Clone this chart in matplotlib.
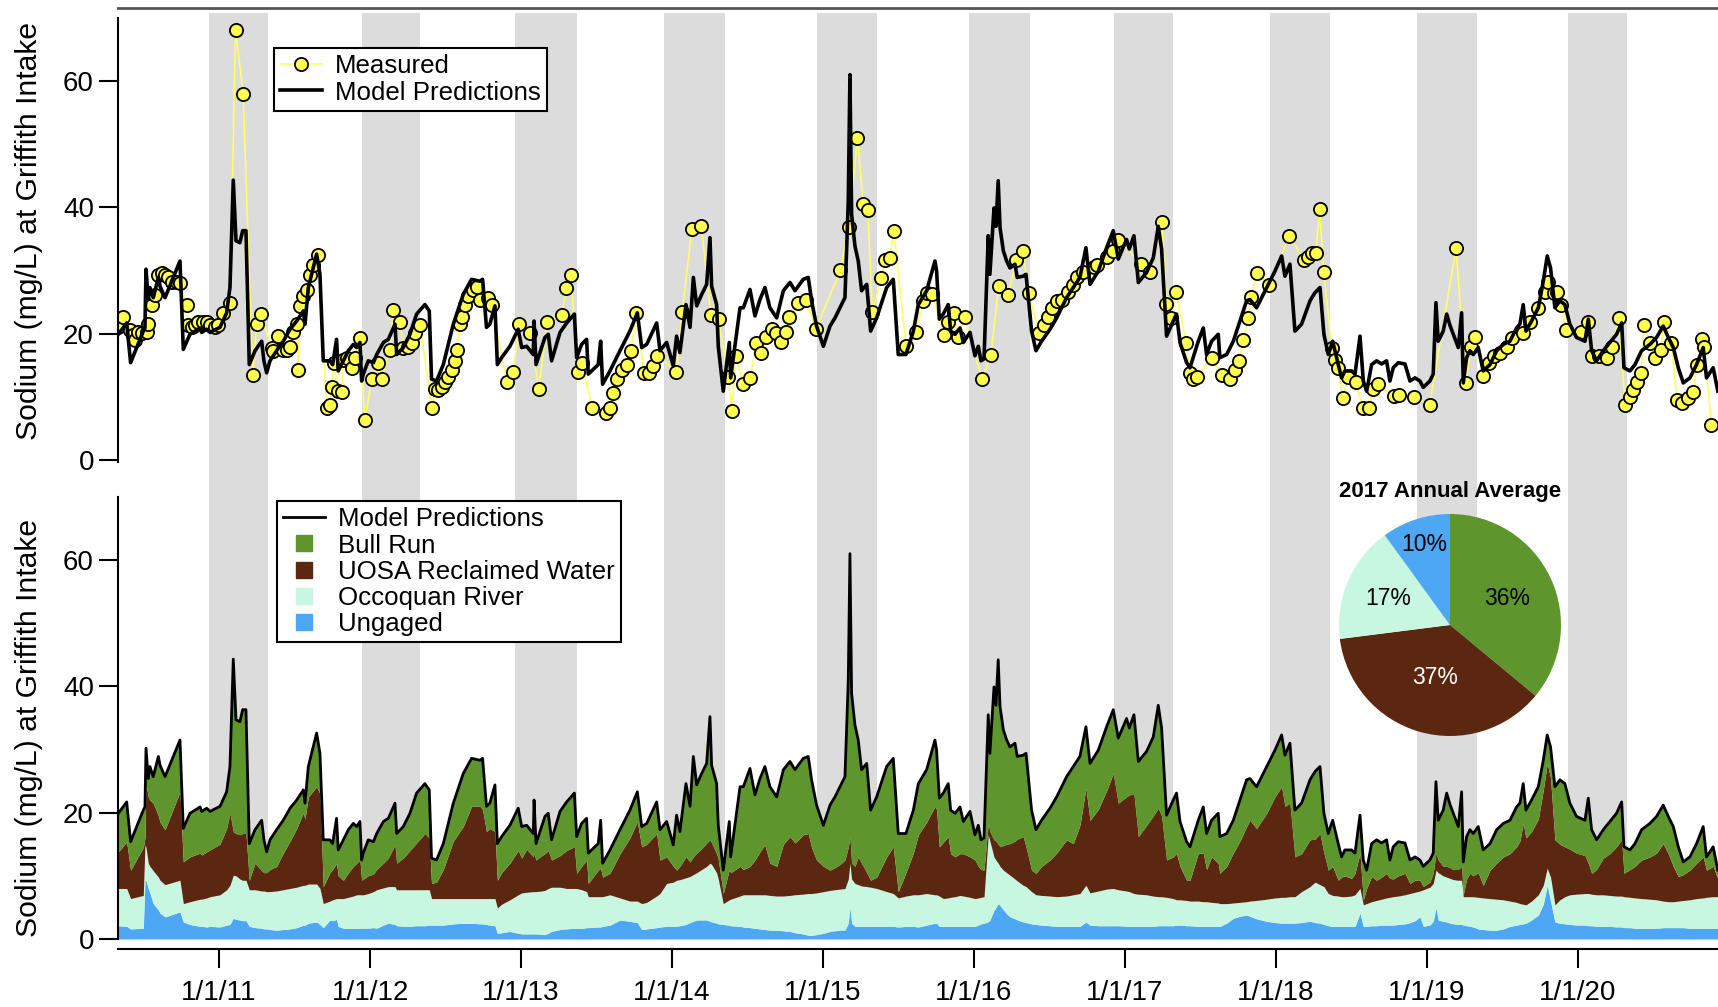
import numpy as np
import matplotlib.pyplot as plt
from matplotlib.lines import Line2D

plt.rcParams['font.family'] = ['Liberation Sans', 'DejaVu Sans']

# road-salt season shading (decimal years)
band_start = [2010.933, 2011.944, 2012.960, 2013.946, 2014.957,
              2015.968, 2016.929, 2017.960, 2018.935, 2019.935]
band_end = [2011.322, 2012.331, 2013.368, 2014.350, 2015.360,
            2016.370, 2017.319, 2018.357, 2019.328, 2020.322]

# model output: time (decimal year), total sodium and cumulative source levels (mg/L)
model_t = [
    2010.333, 2010.388, 2010.414, 2010.498, 2010.509, 2010.516, 2010.531, 2010.542, 2010.564, 2010.598,
    2010.609, 2010.642, 2010.741, 2010.763, 2010.807, 2010.874, 2010.885, 2010.918, 2010.940, 2011.006,
    2011.050, 2011.072, 2011.094, 2011.112, 2011.138, 2011.156, 2011.178, 2011.200, 2011.238, 2011.282,
    2011.297, 2011.315, 2011.337, 2011.381, 2011.425, 2011.470, 2011.514, 2011.558, 2011.569, 2011.591,
    2011.646, 2011.668, 2011.690, 2011.734, 2011.752, 2011.778, 2011.789, 2011.823, 2011.856, 2011.889,
    2011.911, 2011.933, 2011.944, 2011.955, 2011.988, 2012.022, 2012.044, 2012.088, 2012.121, 2012.165,
    2012.176, 2012.220, 2012.264, 2012.308, 2012.363, 2012.392, 2012.407, 2012.440, 2012.485, 2012.551,
    2012.617, 2012.672, 2012.728, 2012.745, 2012.771, 2012.793, 2012.827, 2012.843, 2012.871, 2012.926,
    2012.981,
    2013.004, 2013.037, 2013.081, 2013.086, 2013.099, 2013.136, 2013.158, 2013.180, 2013.202, 2013.258,
    2013.302, 2013.353, 2013.368, 2013.401, 2013.434, 2013.445, 2013.511, 2013.527, 2013.540, 2013.589,
    2013.655, 2013.721, 2013.770, 2013.799, 2013.832, 2013.898, 2013.920, 2013.964, 2014.008, 2014.030,
    2014.052, 2014.092, 2014.119, 2014.141, 2014.163, 2014.196, 2014.229, 2014.251, 2014.262, 2014.295,
    2014.306, 2014.339, 2014.379, 2014.388, 2014.450, 2014.472, 2014.516, 2014.549, 2014.582, 2014.615,
    2014.648, 2014.693, 2014.737, 2014.781, 2014.814, 2014.869, 2014.902, 2014.924, 2014.957, 2015.002,
    2015.046, 2015.079, 2015.112, 2015.145, 2015.167, 2015.178, 2015.189, 2015.211, 2015.233, 2015.255,
    2015.289, 2015.315, 2015.355, 2015.421, 2015.465, 2015.498, 2015.549, 2015.598,
    2015.631, 2015.686, 2015.741, 2015.752, 2015.770, 2015.796, 2015.829, 2015.845, 2015.874, 2015.907,
    2015.929, 2015.973, 2016.006, 2016.028, 2016.046, 2016.066, 2016.094, 2016.105, 2016.132, 2016.145,
    2016.160, 2016.172, 2016.194, 2016.216, 2016.238, 2016.271, 2016.286, 2016.326, 2016.344, 2016.381,
    2016.410, 2016.447, 2016.503, 2016.547, 2016.613, 2016.657, 2016.701, 2016.741, 2016.768, 2016.823,
    2016.878, 2016.922, 2016.955, 2017.010, 2017.028, 2017.059, 2017.088, 2017.143, 2017.187, 2017.220,
    2017.242, 2017.275, 2017.319, 2017.341, 2017.364, 2017.408, 2017.430, 2017.485, 2017.518, 2017.540,
    2017.573, 2017.617, 2017.628, 2017.673, 2017.717, 2017.761, 2017.805, 2017.827, 2017.871, 2017.938,
    2017.993, 2018.037, 2018.059, 2018.092, 2018.125, 2018.169, 2018.225,
    2018.258, 2018.291, 2018.317, 2018.346, 2018.375, 2018.412, 2018.434, 2018.456, 2018.500, 2018.523,
    2018.556, 2018.578, 2018.600, 2018.633, 2018.666, 2018.699, 2018.732, 2018.754, 2018.776, 2018.809,
    2018.854, 2018.887, 2018.920, 2018.953, 2018.975, 2019.019, 2019.041, 2019.059, 2019.074, 2019.107,
    2019.130, 2019.152, 2019.174, 2019.207, 2019.229, 2019.240, 2019.262, 2019.284, 2019.306, 2019.339,
    2019.372, 2019.417, 2019.461, 2019.505, 2019.549, 2019.593, 2019.615, 2019.637, 2019.655, 2019.692,
    2019.737, 2019.770, 2019.796, 2019.818, 2019.847, 2019.880, 2019.913, 2019.946, 2019.990, 2020.046,
    2020.068, 2020.090, 2020.123, 2020.167, 2020.211, 2020.255, 2020.289, 2020.304, 2020.344, 2020.377,
    2020.421, 2020.476, 2020.520, 2020.564, 2020.598, 2020.631, 2020.664, 2020.697, 2020.741, 2020.785,
    2020.829, 2020.851, 2020.895, 2020.926,
]

model_na = [
    19.9, 21.7, 15.4, 20.4, 20.9, 30.2, 25.4, 27.3, 25.7, 28.9,
    27.5, 25.7, 31.5, 17.5, 19.9, 20.9, 20.2, 20.7, 20.2, 21.0,
    23.3, 27.3, 44.3, 34.7, 34.4, 36.3, 36.3, 15.1, 17.3, 18.8,
    15.7, 13.8, 15.7, 17.3, 18.8, 20.7, 22.0, 23.6, 21.5, 27.3,
    32.6, 29.4, 15.7, 15.7, 15.1, 19.1, 14.1, 15.7, 17.3, 18.3,
    17.8, 18.6, 12.5, 13.6, 15.7, 15.4, 16.7, 18.6, 19.1, 21.5,
    16.7, 17.8, 19.9, 23.1, 24.6, 23.6, 12.8, 12.5, 15.1, 21.5,
    26.2, 28.6, 28.3, 28.6, 21.0, 21.5, 24.4, 15.1, 16.2, 18.0,
    20.7,
    17.8, 18.0, 16.7, 22.0, 15.1, 17.8, 19.4, 19.9, 15.7, 20.2,
    21.7, 23.1, 16.2, 18.3, 19.1, 13.6, 15.1, 18.8, 12.0, 14.1,
    17.3, 20.4, 23.3, 17.8, 18.3, 21.7, 17.3, 18.6, 14.9, 19.6,
    17.0, 24.6, 21.0, 28.9, 24.4, 26.2, 27.8, 35.2, 27.5, 24.6,
    18.0, 10.9, 18.6, 13.0, 24.1, 24.1, 27.0, 22.8, 25.4, 27.3,
    24.1, 22.5, 26.8, 28.1, 26.8, 28.6, 28.9, 25.2, 21.2, 18.0,
    21.2, 22.5, 24.1, 25.7, 41.0, 61.0, 38.9, 33.9, 31.5, 26.8,
    27.8, 20.4, 22.5, 27.3, 28.6, 16.7, 16.7, 20.4,
    24.6, 26.8, 31.5, 29.9, 22.3, 23.1, 24.6, 20.4, 19.9, 20.9,
    18.6, 20.2, 16.5, 18.0, 15.7, 16.0, 35.5, 29.4, 39.9, 37.0,
    44.2, 36.8, 33.1, 31.5, 30.4, 31.0, 28.9, 29.1, 29.4, 20.4,
    17.3, 18.8, 20.7, 22.5, 25.7, 27.3, 28.9, 33.6, 27.8, 29.9,
    33.6, 36.3, 31.8, 34.9, 33.4, 35.5, 28.1, 29.7, 32.0, 37.0,
    33.4, 19.6, 22.0, 23.1, 18.6, 15.4, 14.6, 18.8, 20.9, 16.7,
    18.8, 19.9, 16.2, 16.7, 18.8, 22.0, 25.2, 25.4, 24.1, 27.3,
    29.9, 32.3, 29.1, 31.0, 20.4, 21.5, 25.2,
    26.5, 27.3, 19.9, 16.7, 18.8, 15.1, 13.0, 14.1, 14.1, 13.6,
    19.6, 12.5, 10.9, 15.1, 15.7, 15.2, 15.7, 12.5, 14.6, 15.4,
    15.2, 12.5, 13.0, 12.5, 11.5, 12.5, 13.6, 24.9, 18.8, 20.4,
    23.1, 21.3, 19.9, 17.8, 23.3, 12.2, 16.2, 17.3, 16.7, 17.8,
    14.1, 15.1, 17.3, 18.3, 18.8, 20.9, 21.5, 24.6, 20.4, 22.0,
    24.1, 28.3, 32.3, 30.4, 24.1, 25.2, 24.6, 21.5, 19.4, 18.8,
    22.3, 17.3, 15.7, 17.3, 18.6, 19.9, 21.7, 14.6, 14.1, 15.1,
    17.3, 18.3, 19.4, 21.2, 19.4, 17.8, 14.6, 12.2, 13.0, 15.1,
    17.8, 13.0, 14.6, 10.9,
]

# top of the UOSA layer (ungaged + Occoquan + UOSA)
uosa_cum = [
    13.8, 15.4, 10.9, 14.5, 16.0, 24.6, 22.5, 22.0, 21.5, 19.5,
    18.5, 17.3, 23.3, 12.2, 13.0, 13.6, 13.3, 13.8, 14.1, 15.0,
    17.5, 19.9, 17.0, 16.7, 16.5, 16.7, 16.7, 9.3, 12.0, 10.8,
    10.5, 10.5, 11.0, 11.5, 13.6, 15.5, 17.5, 20.0, 19.0, 22.5,
    24.1, 23.0, 8.3, 10.5, 11.0, 12.0, 10.0, 9.3, 10.5, 11.5,
    12.0, 12.5, 9.3, 9.5, 10.0, 10.3, 11.0, 12.0, 12.8, 14.9,
    12.0, 12.8, 14.0, 15.2, 16.7, 16.0, 8.8, 9.0, 11.0, 15.5,
    17.8, 21.0, 21.0, 20.5, 17.0, 17.5, 17.0, 9.3, 10.5, 12.0,
    14.0,
    12.8, 14.2, 13.0, 13.5, 12.5, 13.2, 13.5, 14.0, 12.5, 13.2,
    14.0, 14.6, 10.4, 11.5, 12.5, 8.8, 10.9, 11.2, 9.8, 10.4,
    13.5, 16.0, 18.6, 14.6, 15.0, 16.7, 12.5, 13.0, 11.5, 10.9,
    11.5, 13.0, 12.2, 13.0, 13.6, 14.3, 15.2, 15.7, 15.2, 13.5,
    12.6, 7.2, 11.0, 10.5, 11.5, 11.0, 11.5, 12.5, 13.8, 14.9,
    12.0, 11.5, 15.0, 16.2, 15.2, 16.5, 16.7, 14.5, 12.5, 11.5,
    10.9, 11.3, 11.8, 12.5, 14.5, 16.2, 12.0, 11.5, 13.0, 12.0,
    10.5, 9.3, 9.8, 13.0, 14.6, 7.5, 10.5, 13.6,
    16.5, 18.5, 21.0, 20.5, 14.6, 15.3, 16.2, 13.5, 13.0, 13.5,
    13.5, 13.0, 12.5, 11.5, 11.0, 10.9, 18.3, 17.0, 15.7, 15.5,
    15.0, 14.6, 14.8, 15.0, 15.1, 15.5, 15.8, 16.2, 14.6, 10.9,
    10.4, 11.5, 12.5, 13.6, 15.7, 15.1, 18.0, 23.9, 18.8, 20.5,
    23.5, 26.2, 21.5, 22.5, 22.8, 23.0, 16.2, 18.0, 19.5, 20.7,
    19.5, 12.5, 13.0, 13.6, 11.5, 9.3, 9.3, 13.6, 13.6, 11.0,
    13.0, 12.0, 10.4, 11.5, 13.6, 15.5, 17.8, 18.8, 17.5, 19.9,
    22.5, 24.1, 21.0, 21.5, 13.0, 13.5, 15.7,
    15.8, 16.7, 13.6, 10.9, 11.5, 9.3, 9.8, 10.0, 9.6, 10.4,
    13.6, 6.2, 8.0, 9.9, 9.3, 9.8, 10.4, 9.6, 9.5, 10.0,
    10.4, 8.8, 9.3, 9.3, 8.3, 9.0, 10.4, 13.6, 12.5, 11.5,
    11.5, 11.3, 11.0, 11.0, 11.5, 7.0, 9.5, 10.4, 10.0, 10.5,
    8.5, 10.9, 12.0, 13.0, 13.5, 14.6, 15.5, 18.3, 16.0, 17.0,
    19.0, 23.6, 27.8, 25.5, 15.7, 15.0, 14.6, 14.2, 13.6, 13.2,
    12.0, 10.4, 11.0, 12.8, 13.5, 14.6, 15.7, 10.4, 11.0, 11.5,
    12.5, 13.0, 13.6, 15.1, 13.5, 11.5, 9.9, 10.2, 10.9, 12.0,
    13.0, 10.9, 11.5, 9.5,
]

# top of the Occoquan layer (ungaged + Occoquan)
occoquan_cum = [
    8.0, 8.0, 6.4, 6.9, 14.9, 14.5, 12.0, 11.5, 10.8, 9.8,
    9.3, 8.6, 9.3, 5.6, 5.9, 6.3, 6.3, 6.5, 6.7, 7.0,
    7.8, 8.5, 10.1, 10.0, 9.5, 9.3, 9.3, 7.8, 7.8, 7.6,
    7.6, 7.5, 7.5, 7.6, 7.8, 8.0, 8.2, 8.5, 8.5, 8.7,
    8.7, 8.0, 5.6, 6.0, 6.2, 6.4, 6.4, 6.4, 6.6, 6.8,
    7.0, 7.0, 7.0, 7.0, 7.2, 7.5, 7.8, 8.1, 8.3, 8.3,
    7.8, 7.8, 7.8, 7.8, 7.8, 7.8, 6.4, 6.4, 6.4, 6.4,
    6.4, 6.4, 6.4, 6.4, 6.4, 6.4, 6.4, 4.9, 5.5, 6.2,
    7.0,
    7.3, 7.4, 7.5, 7.5, 7.5, 7.6, 7.7, 8.0, 8.2, 8.2,
    8.0, 8.0, 8.0, 7.8, 7.5, 6.7, 6.7, 6.7, 6.7, 7.0,
    6.5, 6.0, 6.0, 5.6, 5.8, 6.8, 7.2, 8.8, 9.0, 9.3,
    9.4, 9.7, 9.9, 10.2, 10.5, 11.0, 11.5, 12.0, 11.8, 10.5,
    9.5, 5.6, 6.2, 6.3, 6.8, 7.0, 7.0, 7.0, 7.0, 7.0,
    6.9, 6.8, 6.8, 6.9, 7.0, 7.1, 7.2, 7.2, 7.3, 7.5,
    7.7, 7.8, 7.9, 8.0, 9.5, 12.0, 9.5, 8.8, 8.6, 8.4,
    8.3, 8.2, 8.0, 7.5, 7.2, 6.5, 6.8, 7.0,
    7.0, 7.2, 7.0, 7.0, 6.8, 6.4, 6.5, 6.6, 6.7, 6.9,
    6.8, 6.6, 6.4, 6.5, 6.6, 6.7, 16.5, 15.5, 13.0, 12.5,
    12.0, 11.5, 10.9, 10.5, 10.1, 9.5, 9.2, 8.5, 8.3, 7.5,
    7.0, 6.9, 6.8, 6.7, 6.8, 7.0, 7.2, 8.5, 7.3, 7.6,
    7.9, 8.0, 7.8, 7.6, 7.5, 7.2, 7.1, 7.0, 6.8, 6.7,
    6.7, 6.6, 6.4, 6.2, 6.2, 6.1, 6.0, 6.0, 5.9, 5.9,
    5.8, 5.7, 5.6, 5.6, 5.7, 5.8, 5.9, 6.0, 6.1, 6.3,
    6.5, 6.6, 6.6, 6.7, 6.7, 7.5, 8.3,
    9.0, 8.6, 8.3, 7.2, 6.9, 6.8, 6.7, 6.7, 6.8, 7.0,
    8.0, 5.4, 5.6, 5.9, 6.1, 6.3, 6.5, 6.6, 6.7, 6.8,
    7.0, 7.2, 7.4, 7.6, 7.8, 8.2, 8.8, 10.9, 10.5, 10.0,
    9.8, 9.6, 9.4, 9.3, 9.3, 6.7, 6.7, 6.7, 6.7, 6.6,
    6.5, 6.4, 6.3, 6.2, 6.0, 5.8, 5.6, 5.5, 5.4, 6.0,
    7.0, 8.5, 11.2, 9.8, 5.4, 6.2, 6.7, 7.0, 7.1, 7.2,
    7.2, 7.1, 7.0, 7.0, 6.9, 6.8, 6.8, 6.7, 6.6, 6.5,
    6.4, 6.3, 6.2, 6.0, 5.9, 5.9, 6.0, 6.1, 6.2, 6.4,
    6.5, 6.6, 6.7, 6.7,
]

# ungaged contribution (bottom layer)
ungaged_cum = [
    2.1, 2.0, 1.6, 1.7, 9.3, 9.3, 8.0, 7.3, 5.6, 4.6,
    4.1, 3.5, 4.3, 2.7, 2.3, 2.0, 2.0, 1.9, 2.0, 1.9,
    2.2, 2.3, 3.3, 3.1, 3.0, 2.9, 2.9, 2.0, 1.8, 1.7,
    1.6, 1.6, 1.5, 1.4, 1.5, 1.6, 1.8, 2.2, 2.2, 2.5,
    2.7, 2.3, 1.8, 3.0, 2.9, 3.1, 2.0, 1.7, 1.7, 1.7,
    1.7, 1.7, 1.7, 1.7, 1.7, 1.8, 1.7, 2.2, 2.5, 2.3,
    2.1, 2.0, 2.0, 2.1, 2.1, 2.2, 2.2, 2.2, 2.2, 2.4,
    2.5, 2.5, 2.4, 2.4, 2.3, 2.2, 2.1, 0.9, 1.0, 1.2,
    0.9,
    0.8, 0.8, 0.8, 0.8, 0.8, 0.7, 0.7, 0.9, 1.2, 1.5,
    1.6, 1.7, 1.7, 1.7, 1.8, 1.8, 1.9, 1.9, 2.0, 2.2,
    3.0, 2.8, 2.6, 1.5, 1.6, 1.8, 1.9, 2.0, 2.0, 2.0,
    2.1, 2.3, 2.6, 2.8, 3.0, 3.0, 3.0, 2.8, 2.7, 2.5,
    2.4, 2.3, 2.2, 2.1, 2.0, 1.9, 1.8, 1.7, 1.6, 1.5,
    1.4, 1.4, 1.3, 1.2, 1.0, 0.8, 0.6, 0.6, 0.7, 0.9,
    1.2, 1.3, 1.4, 1.4, 2.5, 4.9, 2.5, 2.0, 2.0, 2.0,
    2.0, 2.0, 2.0, 2.0, 2.0, 1.9, 2.0, 2.0,
    1.9, 2.2, 2.5, 2.5, 2.0, 2.0, 2.0, 2.0, 2.0, 2.0,
    2.0, 2.0, 2.0, 2.2, 2.4, 2.5, 2.7, 3.0, 4.5, 5.0,
    5.6, 5.3, 4.6, 4.0, 3.5, 3.2, 3.0, 2.7, 2.6, 2.4,
    2.3, 2.2, 2.1, 2.0, 2.0, 2.0, 2.0, 2.7, 2.2, 2.1,
    2.1, 2.1, 2.1, 2.0, 2.0, 2.0, 2.0, 2.0, 2.0, 2.1,
    2.1, 2.1, 2.1, 2.2, 2.2, 2.1, 2.1, 2.0, 2.0, 2.0,
    2.0, 2.0, 2.0, 2.5, 3.3, 3.6, 3.8, 3.6, 3.2, 2.8,
    2.6, 2.5, 2.5, 2.5, 2.5, 2.6, 2.8,
    2.6, 2.5, 2.3, 2.1, 2.0, 2.0, 2.0, 2.0, 2.0, 2.0,
    4.1, 2.0, 2.0, 2.1, 2.1, 2.2, 2.2, 2.2, 2.2, 2.3,
    2.4, 2.6, 2.9, 3.5, 2.0, 2.2, 2.8, 4.9, 3.0, 2.8,
    2.7, 2.5, 2.4, 2.3, 2.3, 2.2, 2.1, 2.0, 1.9, 1.6,
    1.5, 1.4, 1.4, 1.6, 2.0, 2.2, 2.3, 2.4, 2.5, 3.0,
    3.8, 5.5, 8.5, 6.0, 2.7, 2.5, 2.4, 2.3, 2.2, 2.2,
    2.1, 2.1, 2.0, 2.0, 2.0, 1.9, 1.9, 1.8, 1.8, 1.7,
    1.7, 1.7, 1.7, 1.8, 1.8, 1.8, 1.8, 1.8, 1.7, 1.7,
    1.7, 1.7, 1.7, 1.7,
]

# grab samples at the intake
meas_t = [
    2010.333, 2010.366, 2010.410, 2010.432, 2010.443, 2010.465, 2010.487, 2010.520, 2010.531, 2010.553,
    2010.575, 2010.598, 2010.620, 2010.642, 2010.664, 2010.686, 2010.719, 2010.741, 2010.785, 2010.796,
    2010.818, 2010.840, 2010.862, 2010.895, 2010.918, 2010.940, 2010.973, 2010.995, 2011.028, 2011.072,
    2011.109, 2011.160, 2011.222, 2011.249, 2011.278, 2011.348, 2011.359, 2011.392, 2011.425, 2011.447,
    2011.470, 2011.487, 2011.514, 2011.525, 2011.536, 2011.558, 2011.580, 2011.602, 2011.624, 2011.657,
    2011.712, 2011.734, 2011.745, 2011.761, 2011.790, 2011.812, 2011.823, 2011.845, 2011.878, 2011.900,
    2011.933, 2011.966, 2012.010, 2012.054, 2012.077, 2012.131, 2012.154, 2012.198, 2012.220, 2012.253,
    2012.275, 2012.297, 2012.331, 2012.408, 2012.430, 2012.452, 2012.474, 2012.496, 2012.518, 2012.540,
    2012.562, 2012.573, 2012.595, 2012.606, 2012.628, 2012.650, 2012.684, 2012.706, 2012.728, 2012.783,
    2012.805, 2012.905, 2012.949, 2012.988,
    2013.059, 2013.117, 2013.173, 2013.269, 2013.300, 2013.330, 2013.376, 2013.401, 2013.472,
    2013.560, 2013.586, 2013.611, 2013.637, 2013.670, 2013.700, 2013.730, 2013.763, 2013.814, 2013.847,
    2013.872, 2013.903, 2014.029, 2014.067, 2014.131, 2014.194, 2014.257, 2014.308, 2014.371, 2014.397,
    2014.422, 2014.473, 2014.519, 2014.556, 2014.592, 2014.625, 2014.663, 2014.688, 2014.719, 2014.752,
    2014.777, 2014.835, 2014.886, 2014.954, 2015.114, 2015.170, 2015.228, 2015.266, 2015.296, 2015.327,
    2015.385, 2015.410, 2015.441, 2015.469, 2015.550, 2015.613, 2015.664, 2015.689, 2015.722, 2015.803,
    2015.829, 2015.867, 2015.892, 2015.938, 2016.052, 2016.112, 2016.163, 2016.226, 2016.280, 2016.323,
    2016.361, 2016.432, 2016.462, 2016.488, 2016.518, 2016.551, 2016.584, 2016.619, 2016.652, 2016.685,
    2016.721, 2016.792, 2016.817, 2016.880, 2016.918, 2016.956, 2017.108, 2017.167, 2017.243, 2017.273,
    2017.303, 2017.336,
    2017.405, 2017.429, 2017.453, 2017.477, 2017.573, 2017.645, 2017.693, 2017.729, 2017.753, 2017.784,
    2017.813, 2017.837, 2017.873, 2017.952, 2018.088, 2018.184, 2018.213, 2018.237, 2018.264, 2018.288,
    2018.316, 2018.369, 2018.393, 2018.412, 2018.441, 2018.479, 2018.527, 2018.575, 2018.616, 2018.640,
    2018.676, 2018.784, 2018.815, 2018.916, 2019.017, 2019.192, 2019.257, 2019.288, 2019.319, 2019.372,
    2019.408, 2019.444, 2019.480, 2019.528, 2019.564, 2019.636, 2019.684, 2019.732, 2019.780, 2019.804,
    2019.839, 2019.863, 2019.887, 2019.923, 2020.019, 2020.067, 2020.091, 2020.139, 2020.192, 2020.223,
    2020.271, 2020.312, 2020.343, 2020.367, 2020.391, 2020.415, 2020.439, 2020.475, 2020.511, 2020.547,
    2020.571, 2020.619, 2020.655, 2020.691, 2020.727, 2020.763, 2020.787, 2020.823, 2020.835, 2020.883,
]

meas_na = [
    21.1, 22.7, 20.6, 19.8, 19.0, 20.3, 20.1, 20.3, 21.6, 24.5,
    26.1, 29.3, 29.6, 29.3, 29.0, 28.2, 28.2, 28.0, 24.5, 21.4,
    21.1, 21.4, 21.9, 21.9, 21.9, 21.4, 21.1, 21.4, 23.2, 24.8,
    68.1, 57.9, 13.5, 21.6, 23.1, 17.7, 17.2, 19.6, 17.4, 17.4,
    17.9, 20.3, 21.6, 14.2, 24.3, 25.9, 26.9, 29.3, 30.9, 32.5,
    8.2, 8.7, 11.6, 15.3, 11.0, 10.8, 15.8, 16.1, 14.5, 16.1,
    19.3, 6.3, 12.9, 15.3, 12.9, 17.4, 23.7, 21.9, 17.7, 17.9,
    18.5, 20.1, 21.4, 8.2, 11.3, 11.1, 11.6, 12.4, 13.2, 14.2,
    15.6, 17.4, 21.6, 22.7, 24.5, 25.9, 26.9, 27.4, 25.3, 25.6,
    24.5, 12.4, 14.0, 21.6,
    20.1, 11.2, 21.9, 23.0, 27.2, 29.3, 14.0, 15.3, 8.3,
    7.4, 8.3, 10.6, 12.9, 14.2, 15.0, 17.3, 23.3, 13.8, 13.7,
    14.9, 16.5, 14.0, 23.5, 36.5, 37.0, 23.0, 22.3, 13.2, 7.8,
    16.4, 12.1, 13.0, 18.6, 16.9, 19.4, 20.7, 20.1, 18.7, 20.2,
    22.6, 24.8, 25.3, 20.8, 30.0, 36.9, 51.0, 40.5, 39.6, 23.5,
    28.8, 31.7, 31.9, 36.3, 18.0, 20.3, 25.1, 26.4, 26.3, 19.8,
    21.9, 23.2, 19.5, 22.7, 12.8, 16.6, 27.5, 26.1, 31.7, 33.1,
    26.4, 20.1, 21.4, 22.7, 24.0, 25.2, 25.4, 26.6, 27.7, 29.0,
    29.7, 30.6, 30.9, 32.2, 33.1, 34.9, 31.1, 29.7, 37.6, 24.7,
    22.4, 26.6,
    18.5, 13.7, 12.9, 13.2, 16.1, 13.5, 12.9, 14.2, 15.6, 19.0,
    22.4, 25.8, 29.6, 27.7, 35.5, 31.7, 32.2, 32.7, 32.8, 39.7,
    29.8, 17.7, 15.9, 14.5, 9.8, 13.2, 12.4, 8.3, 8.3, 11.3,
    12.1, 10.1, 10.3, 10.0, 8.7, 33.5, 12.2, 17.9, 19.5, 13.3,
    15.3, 16.4, 16.9, 17.9, 19.3, 20.1, 21.9, 24.0, 26.6, 28.2,
    26.4, 26.6, 24.5, 20.6, 20.3, 21.9, 16.4, 16.4, 16.1, 17.9,
    22.4, 8.7, 10.0, 11.1, 12.4, 13.7, 21.4, 18.5, 16.1, 17.4,
    21.9, 18.5, 9.5, 9.0, 9.8, 10.8, 15.0, 19.1, 17.9, 5.5,
]

# 2017 annual average source split
pie_labels = ['Bull Run', 'UOSA Reclaimed Water', 'Occoquan River', 'Ungaged']
pie_pct = [36, 37, 17, 10]

c_bull = '#5E962D'
c_uosa = '#5C2710'
c_occ = '#C8F7E1'
c_ung = '#4DA7F5'
c_band = '#DCDCDC'
c_yellow = '#FFFF4D'

W, H = 1718, 1007


def box(x0, y0, x1, y1):
    # pixel box (top-left origin) -> figure fraction rect
    return [x0 / W, 1 - y1 / H, (x1 - x0) / W, (y1 - y0) / H]


xmin, xmax = 2010.3325, 2020.927

fig = plt.figure(figsize=(W / 100, H / 100), dpi=100)

bg = fig.add_axes(box(118.3, 13, W, 939))
bg.set_xlim(xmin, xmax)
bg.set_ylim(0, 1)
bg.axis('off')
for s, e in zip(band_start, band_end):
    bg.axvspan(s, e, color=c_band, lw=0)

ax1 = fig.add_axes(box(118.3, 17.8, W, 461.9))
ax2 = fig.add_axes(box(118.3, 496.8, W, 939))

t = np.array(model_t)
na = np.array(model_na)

# top: measured vs model
ax1.plot(meas_t, meas_na, '-', color='#FFFF66', lw=1.2, marker='o', ms=9.5,
         mfc=c_yellow, mec='black', mew=1.3, zorder=2)
ax1.plot(t, na, color='black', lw=2.6, zorder=3)
ax1.set_ylim(-0.3, 70)

# bottom: stacked source contributions
ax2.fill_between(t, 0, ungaged_cum, color=c_ung, lw=0)
ax2.fill_between(t, ungaged_cum, occoquan_cum, color=c_occ, lw=0)
ax2.fill_between(t, occoquan_cum, uosa_cum, color=c_uosa, lw=0)
ax2.fill_between(t, uosa_cum, na, color=c_bull, lw=0)
ax2.plot(t, na, color='black', lw=2.0)
ax2.set_ylim(0, 70)

for ax in (ax1, ax2):
    ax.patch.set_visible(False)
    ax.set_xlim(xmin, xmax)
    ax.set_yticks([0, 20, 40, 60])
    ax.spines['right'].set_visible(False)
    ax.spines['left'].set_linewidth(1.5)
    ax.tick_params(axis='y', length=13.5, width=1.5, labelsize=20, pad=4)
    ax.set_ylabel('Sodium (mg/L) at Griffith Intake', fontsize=21.7)

ax1.spines['bottom'].set_visible(False)
ax1.spines['top'].set_position(('outward', 7.2))
ax1.spines['top'].set_color('#555555')
ax1.spines['top'].set_linewidth(2)
ax1.tick_params(axis='x', bottom=False, labelbottom=False)
ax1.yaxis.set_label_coords(-0.047, 0.52)

ax2.spines['top'].set_visible(False)
ax2.spines['bottom'].set_position(('outward', 7.2))
ax2.spines['bottom'].set_linewidth(1.5)
years = list(range(2011, 2021))
ax2.set_xticks(years)
ax2.set_xticklabels([f'1/1/{y % 100:02d}' for y in years])
ax2.tick_params(axis='x', length=13.5, width=1.5, labelsize=20, pad=9)
ax2.yaxis.set_label_coords(-0.047, 0.477)

leg_kw = dict(loc='upper left', fontsize=18.6, frameon=True, fancybox=False,
              framealpha=1, edgecolor='black', borderaxespad=0, handlelength=1.6,
              handletextpad=0.5, labelspacing=0.08, borderpad=0.25)

h_meas = Line2D([], [], color='#FFFF66', lw=1.2, marker='o', ms=9.5,
                mfc=c_yellow, mec='black', mew=1.3)
h_model = Line2D([], [], color='black', lw=2.6)
lg1 = ax1.legend([h_meas, h_model], ['Measured', 'Model Predictions'],
                 bbox_to_anchor=(0.0973, 0.932), **leg_kw)
lg1.get_frame().set_linewidth(1.5)

h_src = [Line2D([], [], ls='none', marker='s', ms=11, mfc=c, mec=c)
         for c in (c_bull, c_uosa, c_occ, c_ung)]
lg2 = ax2.legend([Line2D([], [], color='black', lw=2)] + h_src,
                 ['Model Predictions'] + pie_labels,
                 bbox_to_anchor=(0.0992, 0.9905), **leg_kw)
lg2.get_frame().set_linewidth(1.5)

# inset pie
axp = fig.add_axes(box(1339, 514, 1561, 736))
wedges, texts, autotexts = axp.pie(
    pie_pct, colors=[c_bull, c_uosa, c_occ, c_ung], startangle=90,
    counterclock=False, autopct='%.0f%%', pctdistance=0.6,
    textprops=dict(fontsize=16.5))
axp.set_xlim(-1, 1)
axp.set_ylim(-1, 1)
axp.set_aspect('equal')
for at, r in zip(autotexts, [0.57, 0.49, 0.61, 0.76]):
    x, y = at.get_position()
    at.set_position((x * r / 0.6, y * r / 0.6))
autotexts[1].set_color('white')
axp.text(0, 1.2, '2017 Annual Average', ha='center', va='center',
         fontsize=16, fontweight='bold', clip_on=False)

fig.savefig('out.png', dpi=100)
